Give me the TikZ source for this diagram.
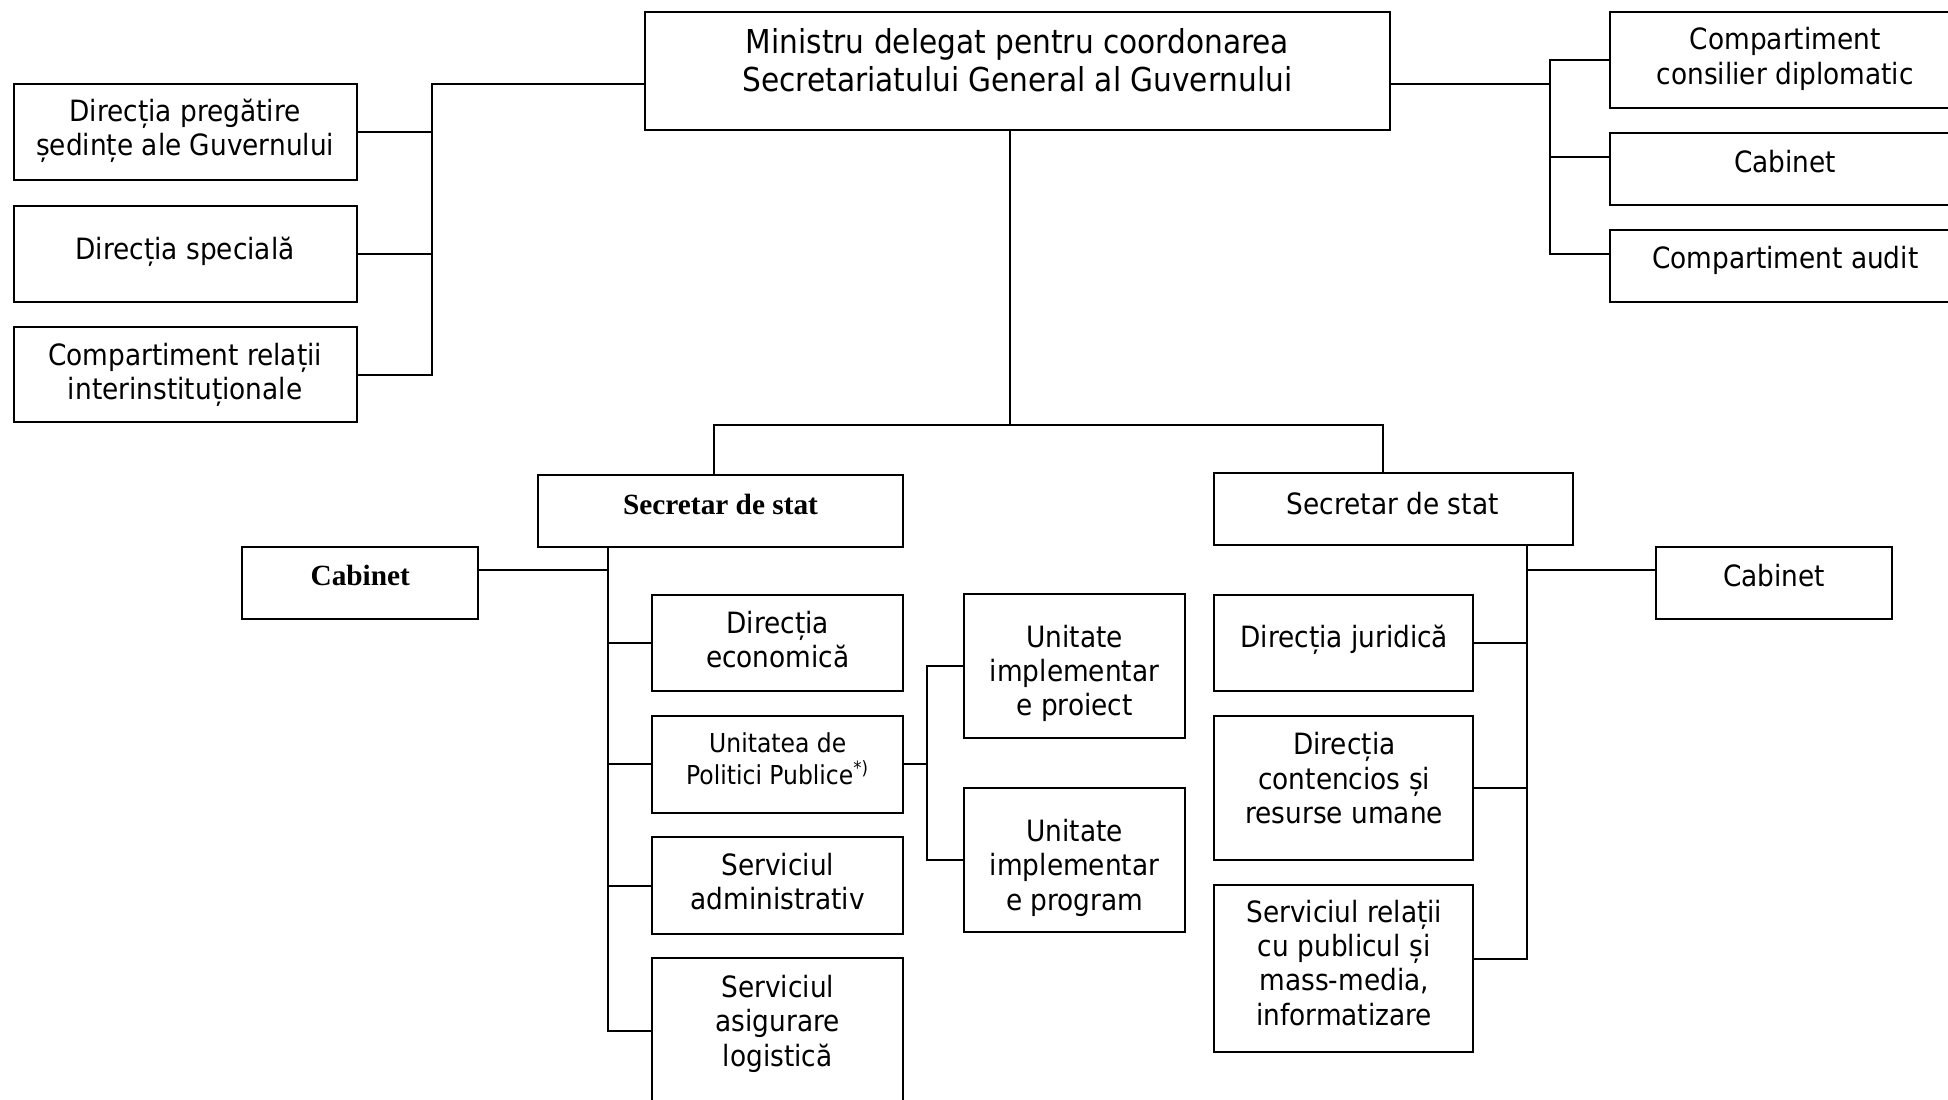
\documentclass[tikz,border=0pt]{standalone}
\usepackage{fontspec}
\setmainfont{DejaVu Sans Condensed}
\newfontfamily\tnr{Liberation Serif}
\usetikzlibrary{calc}
\newcommand{\fN}{\fontsize{11.8}{13.8}\selectfont}
\newcommand{\fM}{\fontsize{13.25}{15.5}\selectfont}
\newcommand{\fS}{\fontsize{10.5}{13}\selectfont}
\newcommand{\fT}{\tnr\bfseries\fontsize{11.8}{13.8}\selectfont}
\tikzset{
  orgbox/.style={draw, rectangle, line width=0.8pt, inner sep=0pt, outer sep=0pt, anchor=north west},
  txt/.style={inner sep=0pt, align=center, font=\fN},
  conn/.style={line width=0.8pt, line cap=rect}
}
\newcommand{\boxnode}[5]{\node[orgbox, minimum width={(#4-#2)*0.5pt}, minimum height={(#5-#3)*0.5pt}] (#1) at (#2,#3) {};}
\begin{document}
\begin{tikzpicture}[x=0.5pt, y=-0.5pt]
\path[use as bounding box] (0,0) rectangle (1568,885);
\clip (0,0) rectangle (1568,885);
% boxes
\boxnode{M}{519}{10}{1119}{105}
\boxnode{LB1}{11}{68}{287}{145}
\boxnode{LB2}{11}{166}{287}{243}
\boxnode{LB3}{11}{263}{287}{340}
\boxnode{RB1}{1296}{10}{1580}{87}
\boxnode{RB2}{1296}{107}{1580}{165}
\boxnode{RB3}{1296}{185}{1580}{243}
\boxnode{SL}{433}{382}{727}{440}
\boxnode{SR}{977}{381}{1266}{439}
\boxnode{CL}{195}{440}{385}{498}
\boxnode{CR}{1333}{440}{1523}{498}
\boxnode{DE}{525}{479}{727}{556}
\boxnode{UPP}{525}{576}{727}{654}
\boxnode{SA}{525}{674}{727}{752}
\boxnode{SLg}{525}{771}{727}{930}
\boxnode{U1}{776}{478}{954}{594}
\boxnode{U2}{776}{634}{954}{750}
\boxnode{DJ}{977}{479}{1186}{556}
\boxnode{DC}{977}{576}{1186}{692}
\boxnode{SRP}{977}{712}{1186}{847}
% texts
\node[txt, font=\fM] (Mt) at (819,48.5) {Ministru delegat pentru coordonarea\\Secretariatului General al Guvernului};
\node[txt] (LB1t) at (149,105) {Direcția pregătire\\ședințe ale Guvernului};
\node[txt] (LB2t) at (149,203) {Direcția specială};
\node[txt] (LB3t) at (149,301.5) {Compartiment relații\\interinstituționale};
\node[txt] (RB1t) at (1437,47.5) {Compartiment\\consilier diplomatic};
\node[txt] (RB2t) at (1437,130) {Cabinet};
\node[txt] (RB3t) at (1437,210) {Compartiment audit};
\node[txt, font=\fT] (SLt) at (580,406) {Secretar de stat};
\node[txt] (SRt) at (1121,405) {Secretar de stat};
\node[txt, font=\fT] (CLt) at (290,463) {Cabinet};
\node[txt] (CRt) at (1428,463) {Cabinet};
\node[txt] (DEt) at (626,515) {Direcția\\economică};
\node[txt, font=\fS] (UPPt) at (626,610.5) {Unitatea de\\Politici Publice\textsuperscript{*)}};
\node[txt] (SAt) at (626,709.5) {Serviciul\\administrativ};
\node[txt] (SLgt) at (626,824) {Serviciul\\asigurare\\logistică};
\node[txt] (U1t) at (865,542) {Unitate\\implementar\\e proiect};
\node[txt] (U2t) at (865,698.5) {Unitate\\implementar\\e program};
\node[txt] (DJt) at (1082,515) {Direcția juridică};
\node[txt] (DCt) at (1082,626.5) {Direcția\\contencios și\\resurse umane};
\node[txt] (SRPt) at (1082,775) {Serviciul relații\\cu publicul și\\mass-media,\\informatizare};
% connectors: top-left group
\coordinate (lb) at (348,68);
\draw[conn] (M.west |- lb) -- (lb) -- (lb |- LB3.east) -- (LB3.east);
\draw[conn] (LB1.east) -- (LB1.east -| lb);
\draw[conn] (LB2.east) -- (LB2.east -| lb);
% top-right group
\coordinate (rb) at (1248,68);
\coordinate (r2) at ($(RB2.north west)!0.33!(RB2.south west)$);
\coordinate (r3) at ($(RB3.north west)!0.33!(RB3.south west)$);
\draw[conn] (M.east |- rb) -- (rb);
\draw[conn] (RB1.west) -- (RB1.west -| rb) -- (rb |- r3) -- (r3);
\draw[conn] (r2) -- (r2 -| rb);
% main trunk
\coordinate (mj) at (813,342);
\coordinate (hl) at (575,342);
\coordinate (hr) at (1113,342);
\draw[conn] (mj |- M.south) -- (mj);
\draw[conn] (hl |- SL.north) -- (hl) -- (hr) -- (hr |- SR.north);
% left secretary
\coordinate (lbus) at (489,830);
\coordinate (cl) at ($(CL.north east)!0.33!(CL.south east)$);
\draw[conn] (lbus |- SL.south) -- (lbus) -- (SLg.west |- lbus);
\draw[conn] (cl) -- (cl -| lbus);
\draw[conn] (DE.west) -- (DE.west -| lbus);
\draw[conn] (UPP.west) -- (UPP.west -| lbus);
\draw[conn] (SA.west) -- (SA.west -| lbus);
% units
\coordinate (ub) at (746,614);
\draw[conn] (UPP.east) -- (UPP.east -| ub);
\draw[conn] (U1.west) -- (U1.west -| ub) -- (U2.west -| ub) -- (U2.west);
% right secretary
\coordinate (rbus) at (1229,772);
\coordinate (cr) at ($(CR.north west)!0.33!(CR.south west)$);
\draw[conn] (rbus |- SR.south) -- (rbus) -- (SRP.east |- rbus);
\draw[conn] (cr) -- (cr -| rbus);
\draw[conn] (DJ.east) -- (DJ.east -| rbus);
\draw[conn] (DC.east) -- (DC.east -| rbus);
\end{tikzpicture}
\end{document}
